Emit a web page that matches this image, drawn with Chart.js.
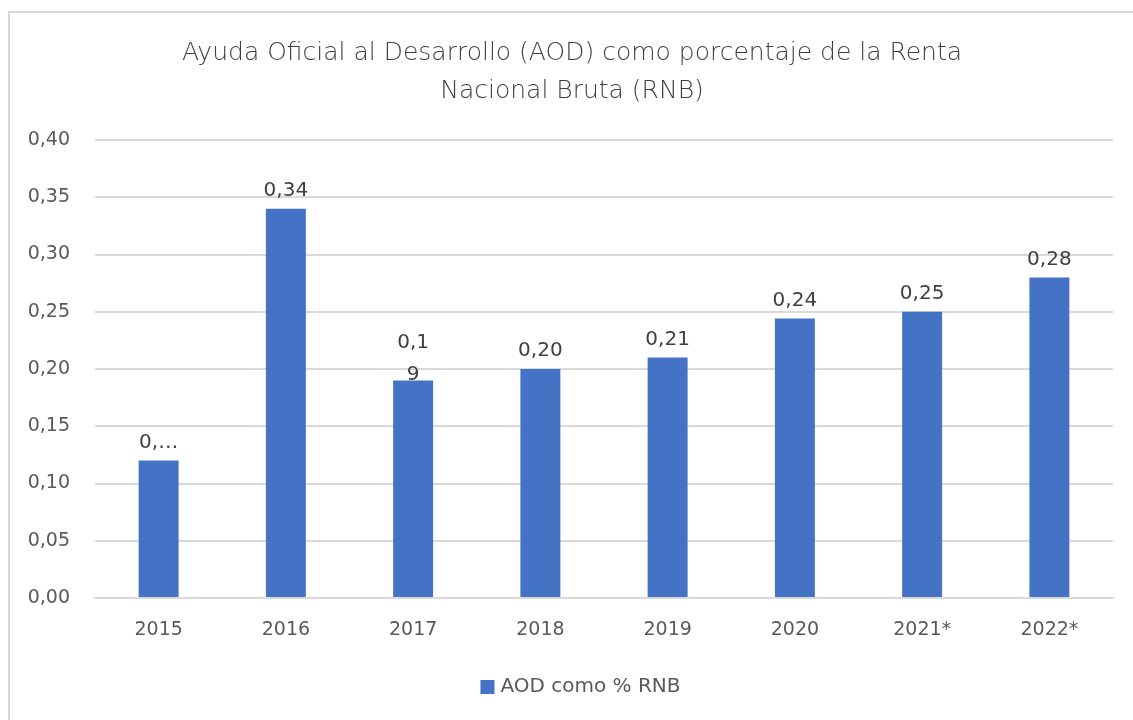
<!DOCTYPE html>
<html>
<head>
<meta charset="utf-8">
<script src="https://cdn.jsdelivr.net/npm/chart.js@4"></script>
<style>
  html, body { margin: 0; padding: 0; background: #fff; }
  #wrap { position: relative; width: 1133px; height: 720px; overflow: hidden; }
  #frame { position: absolute; left: 8px; top: 11px; width: 1200px; height: 800px;
           border-left: 2px solid #d9d9d9; border-top: 2px solid #d9d9d9; box-sizing: border-box; }
  canvas { position: absolute; left: 0; top: 0; }
</style>
</head>
<body>
<div id="wrap">
  <div id="frame"></div>
  <canvas id="c" width="1133" height="720"></canvas>
</div>
<script>
const categories = ['2015', '2016', '2017', '2018', '2019', '2020', '2021*', '2022*'];
const values = [0.12, 0.34, 0.19, 0.20, 0.21, 0.244, 0.25, 0.28];
const valueLabels = ['0,…', '0,34', ['0,1', '9'], '0,20', '0,21', '0,24', '0,25', '0,28'];
const seriesName = 'AOD como % RNB';
const titleLines = ['Ayuda Oficial al Desarrollo (AOD) como porcentaje de la Renta', 'Nacional Bruta (RNB)'];

const FONT = "'DejaVu Sans', 'Open Sans', sans-serif";
const TXT = '#595959';
const GRID = '#d9d9d9';
const BLUE = '#4472C4';

const titlePlugin = {
  id: 'customTitle',
  afterDraw(chart) {
    const ctx = chart.ctx;
    ctx.save();
    ctx.fillStyle = '#3f3f3f';
    ctx.font = "200 25px " + FONT;
    ctx.textAlign = 'center';
    ctx.textBaseline = 'middle';
    const cx = 572;
    titleLines.forEach((t, i) => ctx.fillText(t, cx, 53 + i * 38));
    ctx.restore();
  }
};

const legendPlugin = {
  id: 'customLegend',
  afterDraw(chart) {
    const ctx = chart.ctx;
    ctx.save();
    ctx.font = "20px " + FONT;
    const tw = ctx.measureText(seriesName).width;
    const box = 14, gap = 6;
    const total = box + gap + tw;
    const x0 = 580.5 - total / 2;
    const cy = 687;
    ctx.fillStyle = BLUE;
    ctx.fillRect(x0, cy - box / 2, box, box);
    ctx.fillStyle = TXT;
    ctx.textAlign = 'left';
    ctx.textBaseline = 'middle';
    ctx.fillText(seriesName, x0 + box + gap, cy);
    ctx.restore();
  }
};

const labelPlugin = {
  id: 'valueLabels',
  afterDatasetsDraw(chart) {
    const ctx = chart.ctx;
    const meta = chart.getDatasetMeta(0);
    ctx.save();
    ctx.fillStyle = '#404040';
    ctx.font = "20px " + FONT;
    ctx.textAlign = 'center';
    ctx.textBaseline = 'middle';
    meta.data.forEach((bar, i) => {
      const lab = valueLabels[i];
      const lines = Array.isArray(lab) ? lab : [lab];
      const base = bar.y - (lines.length > 1 ? 6 : 18);
      for (let k = 0; k < lines.length; k++) {
        const y = base - (lines.length - 1 - k) * 32;
        ctx.fillText(lines[k], bar.x, y);
      }
    });
    ctx.restore();
  }
};

new Chart(document.getElementById('c'), {
  type: 'bar',
  data: {
    labels: categories,
    datasets: [{
      label: seriesName,
      data: values,
      backgroundColor: BLUE,
      borderWidth: 0,
      barPercentage: 0.314,
      categoryPercentage: 1.0
    }]
  },
  options: {
    responsive: false,
    animation: false,
    devicePixelRatio: 1,
    layout: { padding: { left: 8, right: 20, top: 140, bottom: 52 } },
    plugins: {
      title: { display: false },
      tooltip: { enabled: false },
      legend: { display: false }
    },
    scales: {
      x: {
        grid: { display: false, drawTicks: false },
        border: { display: true, color: GRID, width: 2 },
        ticks: { color: TXT, font: { family: FONT, size: 19 }, padding: 21, maxRotation: 0 },
        afterFit(scale) { scale.height = 70; }
      },
      y: {
        min: 0,
        max: 0.4,
        grid: { color: GRID, lineWidth: 2, drawTicks: false },
        border: { display: false },
        ticks: {
          stepSize: 0.05,
          color: TXT,
          font: { family: FONT, size: 19 },
          padding: 25,
          callback: (v) => v.toFixed(2).replace('.', ',')
        },
        afterFit(scale) { scale.width = 87; }
      }
    }
  },
  plugins: [titlePlugin, labelPlugin, legendPlugin]
});
</script>
</body>
</html>
